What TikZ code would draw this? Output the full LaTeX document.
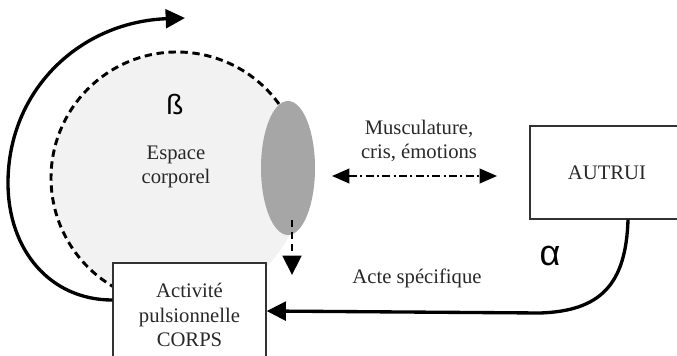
\documentclass[tikz,border=0pt]{standalone}
\usepackage{fontspec}
\setmainfont{Liberation Serif}
\newfontfamily\grecfont{Liberation Sans}
\usetikzlibrary{arrows.meta,shapes.geometric}

\tikzset{every picture/.style={line width=0.75pt}}
\definecolor{texte}{RGB}{40,40,40}
\definecolor{espacefond}{RGB}{242,242,242}
\definecolor{zonefond}{RGB}{166,166,166}
\tikzset{
  boite/.style={draw={rgb, 255:red, 50; green, 50; blue, 50 }, fill=white, line width=0.9pt, inner sep=0.75pt, align=center, text=texte, font=\fontsize{15.5}{18.4}\selectfont},
  libelle/.style={inner sep=0.75pt, align=center, text=texte, font=\fontsize{15.5}{18.4}\selectfont},
  grec/.style={inner sep=0.75pt, text=black, font=\grecfont\fontsize{21}{21}\selectfont},
  pointe/.style={-{Triangle[length=14.5pt,width=14pt]}},
  tirets/.style={dash pattern={on 5.5pt off 3.5pt}},
}

\begin{document}
\begin{tikzpicture}[x=0.75pt,y=0.75pt,yscale=-1,xscale=1]
\useasboundingbox (0,0) rectangle (677,356);

%Shape: Circle
\fill [espacefond] (177,178) circle [radius=126];
%Curve Lines
\draw [line width=2.2pt, tirets] (177,178) ++(-36:126) arc [start angle=-36, end angle=-240, radius=126];
%Shape: Ellipse
\node [ellipse, fill=zonefond, minimum width=40.5pt, minimum height=100.5pt, inner sep=0pt] (zone) at (288,168) {};

% Text Node
\node [boite, minimum width=114.75pt, minimum height=78pt] (corps) at (189.5,315) {Activité\\pulsionnelle\\CORPS};
% Text Node
\node [boite, minimum width=115.5pt, minimum height=69.75pt] (autrui) at (607,172.5) {AUTRUI};

\coordinate (boucle) at (185,18);
\coordinate (chutehaut) at (292,220);
\coordinate (chutebas) at (292,275);
\coordinate (echangeg) at (332,176);
\coordinate (echanged) at (497,176);

%Curve Lines
\draw [line width=2.5pt, pointe] ([yshift=-11.25pt]corps.west) .. controls (50,300) and (8,250) .. (8,183) .. controls (8,90) and (80,22) .. (boucle);
%Curve Lines
\draw [line width=2.5pt, pointe] ([xshift=15.75pt]autrui.south) .. controls (626,285) and (600,311) .. (540,313) -- ([yshift=-3pt]corps.east);
%Straight Lines
\draw [line width=2.2pt, tirets, pointe] (chutehaut) -- (chutebas);
%Straight Lines
\draw [line width=1.3pt, dash pattern={on 6pt off 2.5pt on 1.5pt off 2.5pt}, {Triangle[length=13pt,width=11pt]}-{Triangle[length=13pt,width=11pt]}] (echangeg) -- (echanged);

% Text Node
\node [libelle] (espace) at (176,167) {Espace\\corporel};
% Text Node
\node [libelle] (musc) at (419,141) {Musculature,\\cris, émotions};
% Text Node
\node [libelle] (acte) at (417,278) {Acte spécifique};
% Text Node
\node [grec] (beta) at (175,104) {ß};
% Text Node
\node [grec, font=\grecfont\fontsize{27}{27}\selectfont] (alpha) at (550,256) {α};

\end{tikzpicture}
\end{document}
